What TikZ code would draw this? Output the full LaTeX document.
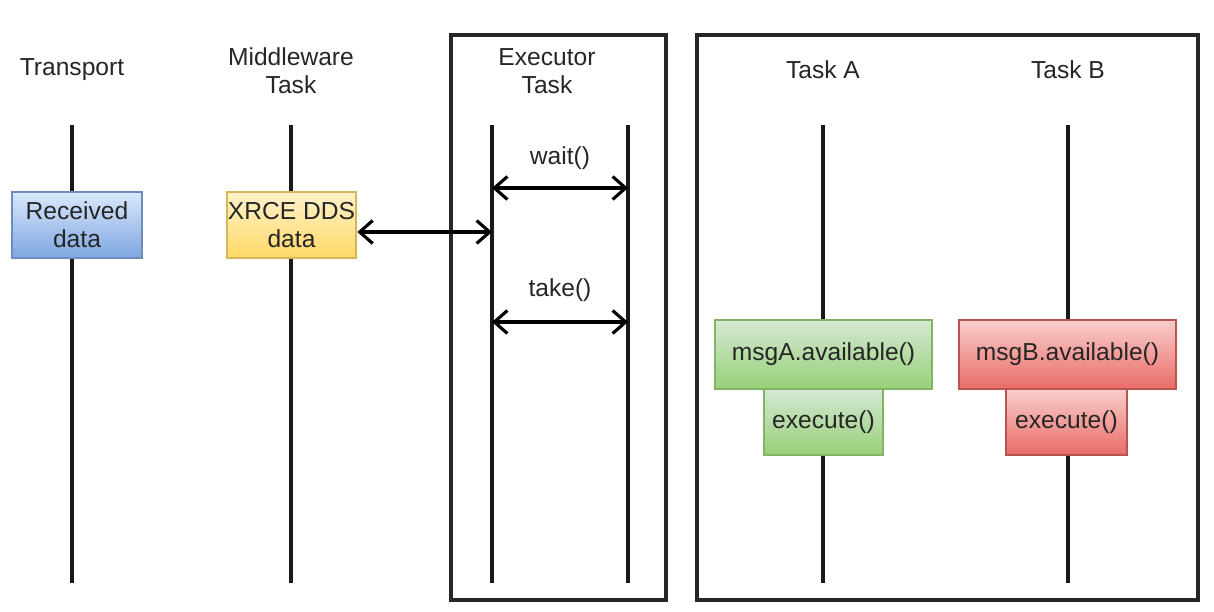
\documentclass[tikz,border=0pt]{standalone}
\usepackage{fontspec}
\setmainfont{Liberation Sans}
\usetikzlibrary{arrows.meta}

\definecolor{blueline}{HTML}{6C8EBF}
\definecolor{bluetop}{HTML}{DAE8FC}
\definecolor{bluebot}{HTML}{7EA6E0}
\definecolor{yellowline}{HTML}{D6B656}
\definecolor{yellowtop}{HTML}{FFF2CC}
\definecolor{yellowbot}{HTML}{FFD966}
\definecolor{greenline}{HTML}{82B366}
\definecolor{greentop}{HTML}{D5E8D4}
\definecolor{greenbot}{HTML}{97D077}
\definecolor{redline}{HTML}{B85450}
\definecolor{redtop}{HTML}{F8CECC}
\definecolor{redbot}{HTML}{EA6B66}

\tikzset{
  label/.style={font=\fontsize{14}{16}\selectfont, align=center, text=black!85},
  act/.style={line width=1.5pt, font=\fontsize{14}{16}\selectfont, text=black!85, inner sep=0pt},
  life/.style={line width=1.8pt, black!90},
  frame/.style={line width=2.2pt, black!85},
  call/.style={line width=1.8pt, {Straight Barb[length=2.6mm,width=4.6mm]}-{Straight Barb[length=2.6mm,width=4.6mm]}}
}

\begin{document}
\begin{tikzpicture}[x=0.02cm,y=-0.02cm]
			\useasboundingbox (0,0) rectangle (1214,612);
			% frames
			\draw[frame] (451,35) rectangle (666,600);
			\draw[frame] (697,35) rectangle (1198,600);
			% headers
			\node[label] (hT) at (72,70) {Transport};
			\node[label] (hM) at (291,71) {Middleware\\Task};
			\node[label] (hE) at (547,71) {Executor\\Task};
			\node[label] (hA) at (823,70) {Task A};
			\node[label] (hB) at (1068,70) {Task B};
			% lifelines
			\foreach \n/\x in {T/72,M/291,E1/492,E2/628,A/823,B/1068}{
				\coordinate (top\n) at (\x,125);
				\coordinate (bot\n) at (\x,583);
				\draw[life] (top\n) -- (bot\n);
			}
			% activations
			\node[act, draw=blueline, top color=bluetop, bottom color=bluebot,
				minimum width=2.6cm, minimum height=1.32cm, align=center] (recv) at (77,225) {Received\\data};
			\node[act, draw=yellowline, top color=yellowtop, bottom color=yellowbot,
				minimum width=2.58cm, minimum height=1.32cm, align=center] (xrce) at (291.5,225) {XRCE DDS\\data};
			\node[act, draw=greenline, top color=greentop, bottom color=greenbot,
				minimum width=4.34cm, minimum height=1.38cm] (availA) at (823.5,354.5) {msgA.available()};
			\node[act, draw=greenline, top color=greentop, bottom color=greenbot,
				minimum width=2.38cm, minimum height=1.32cm] (execA) at (823.5,422) {execute()};
			\node[act, draw=redline, top color=redtop, bottom color=redbot,
				minimum width=4.34cm, minimum height=1.38cm] (availB) at (1067.5,354.5) {msgB.available()};
			\node[act, draw=redline, top color=redtop, bottom color=redbot,
				minimum width=2.42cm, minimum height=1.32cm] (execB) at (1066.5,422) {execute()};
			% calls
			\coordinate (inE) at (492,232);
			\draw[call] (xrce.east |- inE) -- (inE);
			\coordinate (w1) at (492,188); \coordinate (w2) at (628,188);
			\draw[call] (w1) -- (w2);
			\node[label] (wait) at (560,158) {wait()};
			\coordinate (t1) at (492,322); \coordinate (t2) at (628,322);
			\draw[call] (t1) -- (t2);
			\node[label] (take) at (560,290) {take()};
		\end{tikzpicture}
\end{document}
